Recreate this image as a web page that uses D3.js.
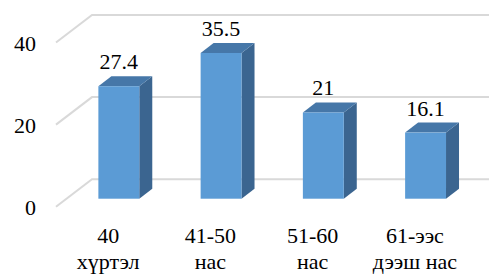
<!DOCTYPE html>
<html>
<head>
<meta charset="utf-8">
<script src="https://cdn.jsdelivr.net/npm/d3@7"></script>
</head>
<body style="margin:0">
<svg id="chart" width="489" height="274"></svg>
<script>
// Data
const categories = [["40", "хүртэл"], ["41-50", "нас"], ["51-60", "нас"], ["61-ээс", "дээш нас"]];
const values = [27.4, 35.5, 21, 16.1];
const yTicks = [0, 20, 40];

const width = 489;
const height = 274;
const depth = { dx: 35, dy: -27.5 };      // back wall offset
const barOffset = { dx: 10.7, dy: -8 };   // bar front face offset
const barDepth = { dx: 13, dy: -10 };     // bar thickness

const svg = d3.select("#chart");

const xScale = d3.scaleBand()
    .domain(d3.range(categories.length))
    .range([57, 466]);

const barWidth = xScale.bandwidth() * 0.4;

const yScale = d3.scaleLinear()
    .domain([0, 40])
    .range([206.7, 42.5]);

// Grid lines: floor diagonal + back wall
const grid = svg.append("g");
yTicks.forEach(t => {
    const y = yScale(t);
    grid.append("path")
        .attr("d", `M56,${y} L${57 + depth.dx},${y + depth.dy} L${width},${y + depth.dy}`)
        .attr("fill", "none")
        .attr("stroke", "#d9d9d9")
        .attr("stroke-width", 2);
});

// Tick labels
yTicks.forEach(t => {
    svg.append("text")
        .attr("x", 36)
        .attr("y", yScale(t) + 8.4)
        .attr("text-anchor", "end")
        .style("font-family", "Liberation Serif")
        .style("font-size", "22px")
        .text(t);
});

// Bars
values.forEach((v, i) => {
    const g = svg.append("g");
    const x0 = xScale(i) + xScale.bandwidth() / 2 - barWidth / 2 + barOffset.dx;
    const x1 = x0 + barWidth;
    const yb = yScale(0) + barOffset.dy;
    const yt = yScale(v) + barOffset.dy;
    // side face
    g.append("path")
        .attr("d", `M${x1},${yt} L${x1 + barDepth.dx},${yt + barDepth.dy} L${x1 + barDepth.dx},${yb + barDepth.dy} L${x1},${yb} Z`)
        .attr("fill", "#3b6590");
    // top face
    g.append("path")
        .attr("d", `M${x0},${yt} L${x0 + barDepth.dx},${yt + barDepth.dy} L${x1 + barDepth.dx},${yt + barDepth.dy} L${x1},${yt} Z`)
        .attr("fill", "#4677a8");
    // front face
    g.append("rect")
        .attr("x", x0)
        .attr("y", yt)
        .attr("width", barWidth)
        .attr("height", yb - yt)
        .attr("fill", "#5b9bd5");
    // value label
    svg.append("text")
        .attr("x", xScale(i) + xScale.bandwidth() / 2 + barOffset.dx)
        .attr("y", yt + barDepth.dy - 7)
        .attr("text-anchor", "middle")
        .style("font-family", "Liberation Serif")
        .style("font-size", "22px")
        .text(v);
});

// Category labels (two lines each)
categories.forEach((lines, i) => {
    lines.forEach((line, j) => {
        svg.append("text")
            .attr("x", xScale(i) + xScale.bandwidth() / 2)
            .attr("y", 243 + j * 26)
            .attr("text-anchor", "middle")
            .style("font-family", "Liberation Serif")
            .style("font-size", "22px")
            .text(line);
    });
});
</script>
</body>
</html>
